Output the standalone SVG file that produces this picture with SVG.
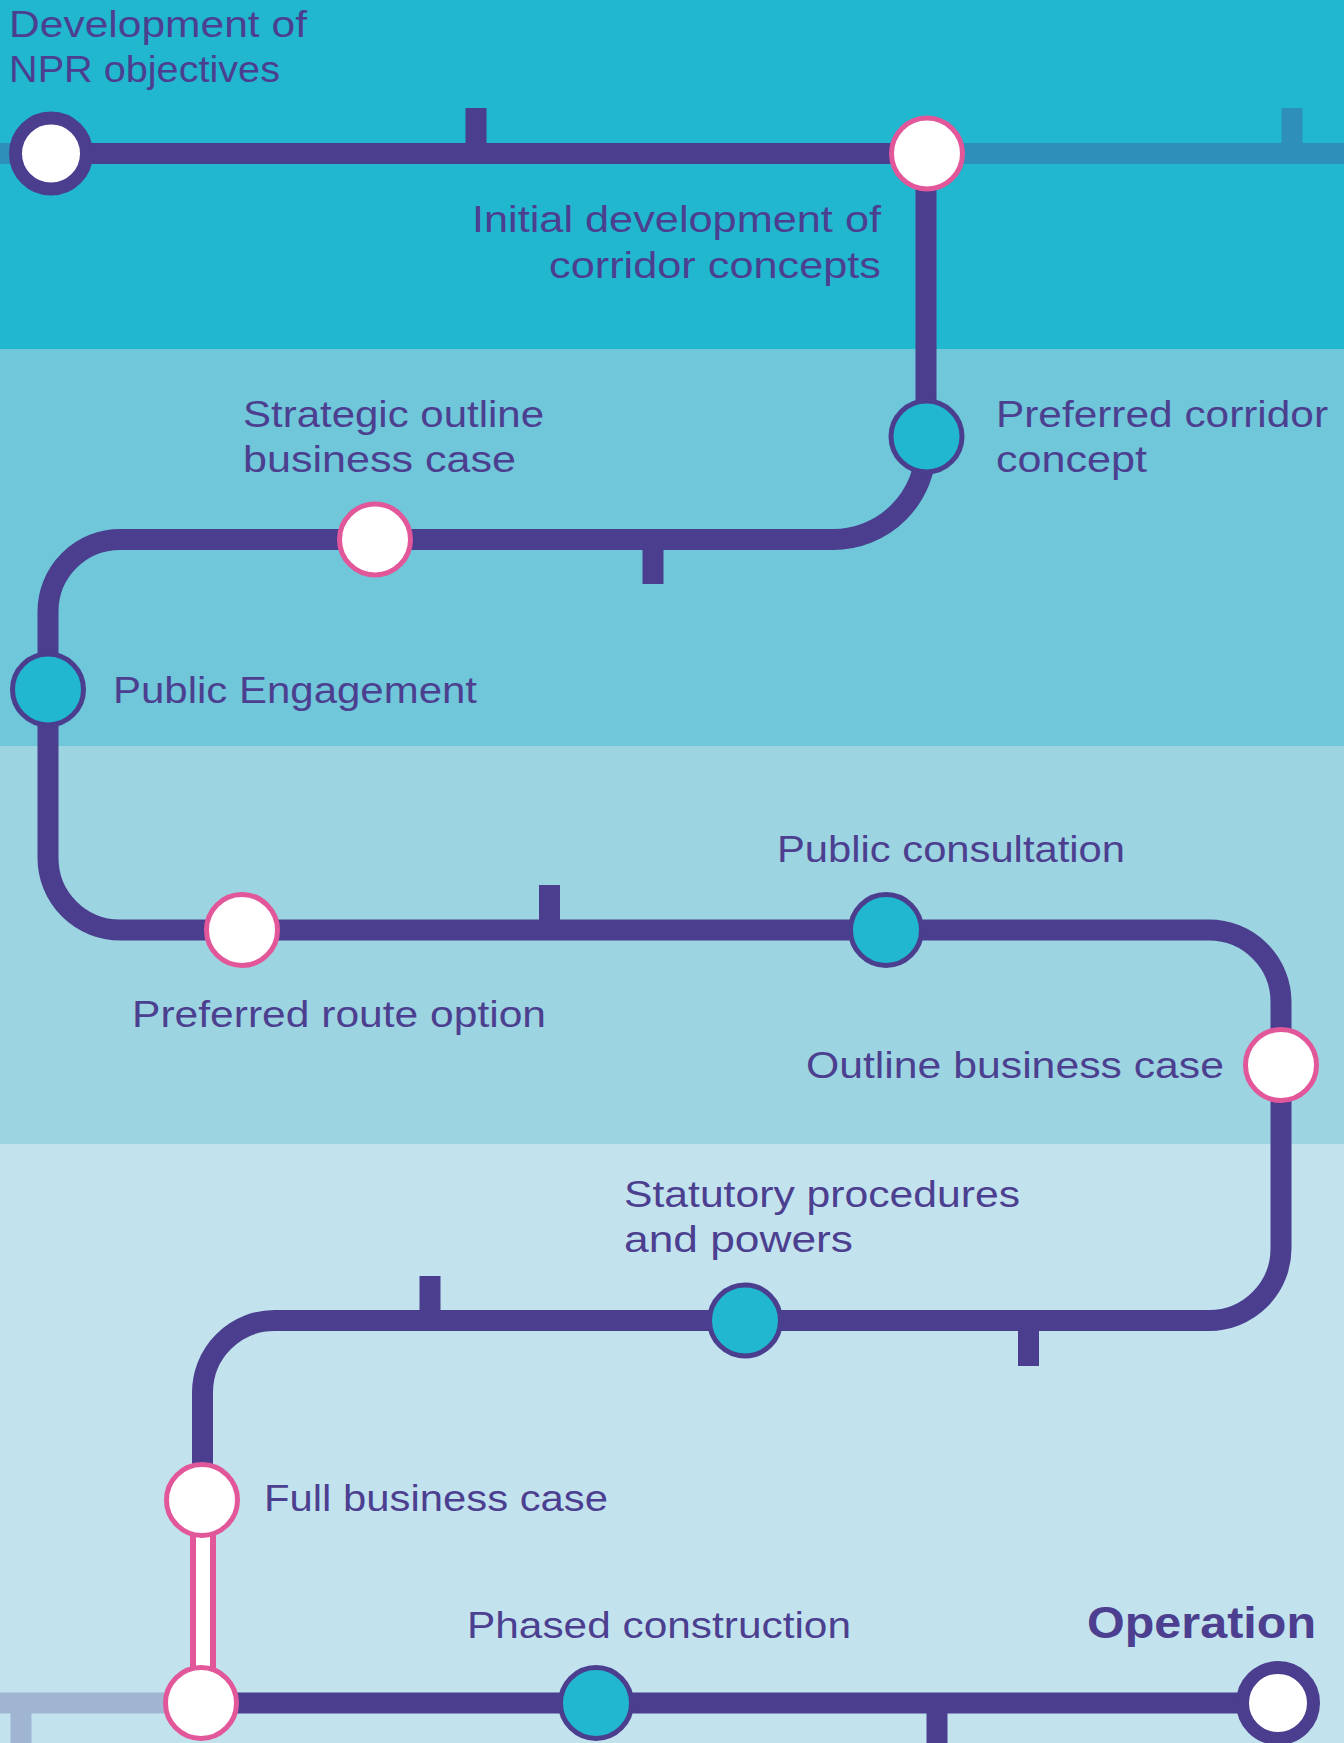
<svg xmlns="http://www.w3.org/2000/svg" width="1344" height="1743" viewBox="0 0 1344 1743">
<style>
.lbl{font-family:"Liberation Sans",Arial,sans-serif;font-size:37px;fill:#4C3F90}
.bold{font-weight:bold;font-size:44px}
.line{fill:none;stroke:#4B3E8F;stroke-width:21}
.light1{fill:none;stroke:#2E8FBB;stroke-width:21}
.light2{fill:none;stroke:#A0B5D2;stroke-width:21}
.tick{stroke:#4B3E8F;stroke-width:21}
.pink{fill:#FFFFFF;stroke:#E2579A;stroke-width:5}
.teal{fill:#20B7CF;stroke:#4B3E8F;stroke-width:5}
.term{fill:#FFFFFF;stroke:#4B3E8F;stroke-width:13}
</style>
<g id="bands">
<rect x="0" y="0" width="1344" height="349" fill="#20B7CF"/>
<rect x="0" y="349" width="1344" height="397" fill="#6FC7D9"/>
<rect x="0" y="746" width="1344" height="398" fill="#9CD5E1"/>
<rect x="0" y="1144" width="1344" height="599" fill="#C2E3EE"/>
</g>
<g id="connectors">
<path class="light1" d="M0,153.5 H51 M926,153.5 H1344"/>
<line x1="1292" y1="108" x2="1292" y2="153" stroke="#2E8FBB" stroke-width="21"/>
<path class="light2" d="M0,1703 H201"/>
<line x1="21" y1="1703" x2="21" y2="1743" stroke="#A0B5D2" stroke-width="21"/>
<path class="line" d="M51,153.5 H926 V446.5 A93,93 0 0 1 833,539.5 H120 A72,72 0 0 0 48,611.5 V858 A72,72 0 0 0 120,930 H1209 A72,72 0 0 1 1281,1002 V1248.5 A72,72 0 0 1 1209,1320.5 H274.5 A72,72 0 0 0 202.5,1392.5 V1500"/>
<path class="line" d="M201,1703 H1278"/>
<line class="tick" x1="476" y1="108" x2="476" y2="153"/>
<line class="tick" x1="653" y1="539" x2="653" y2="584"/>
<line class="tick" x1="549.5" y1="885" x2="549.5" y2="930"/>
<line class="tick" x1="430" y1="1276" x2="430" y2="1320"/>
<line class="tick" x1="1028.5" y1="1320" x2="1028.5" y2="1366"/>
<line class="tick" x1="937" y1="1703" x2="937" y2="1743"/>
<rect x="193" y="1500" width="20" height="203" fill="#FFFFFF" stroke="#E2579A" stroke-width="6"/>
</g>
<g id="n-development">
<circle class="term" cx="51" cy="153.5" r="35.5"/>
<text class="lbl" x="9" y="37" textLength="298" lengthAdjust="spacingAndGlyphs">Development of</text>
<text class="lbl" x="9" y="82" textLength="271" lengthAdjust="spacingAndGlyphs">NPR objectives</text>
</g>
<g id="n-initial">
<circle class="pink" cx="927" cy="153.5" r="35.5"/>
<text class="lbl" x="472" y="232" textLength="409" lengthAdjust="spacingAndGlyphs">Initial development of</text>
<text class="lbl" x="549" y="278" textLength="332" lengthAdjust="spacingAndGlyphs">corridor concepts</text>
</g>
<g id="n-corridor">
<circle class="teal" cx="926.5" cy="436.5" r="35.5"/>
<text class="lbl" x="996" y="427" textLength="332" lengthAdjust="spacingAndGlyphs">Preferred corridor</text>
<text class="lbl" x="996" y="472" textLength="151" lengthAdjust="spacingAndGlyphs">concept</text>
</g>
<g id="n-sobc">
<circle class="pink" cx="375" cy="539.5" r="35.5"/>
<text class="lbl" x="243" y="427" textLength="301" lengthAdjust="spacingAndGlyphs">Strategic outline</text>
<text class="lbl" x="243" y="472" textLength="273" lengthAdjust="spacingAndGlyphs">business case</text>
</g>
<g id="n-engagement">
<circle class="teal" cx="48" cy="689.5" r="35.5"/>
<text class="lbl" x="113" y="703" textLength="364" lengthAdjust="spacingAndGlyphs">Public Engagement</text>
</g>
<g id="n-route">
<circle class="pink" cx="242" cy="930" r="35.5"/>
<text class="lbl" x="132" y="1027" textLength="414" lengthAdjust="spacingAndGlyphs">Preferred route option</text>
</g>
<g id="n-consultation">
<circle class="teal" cx="886" cy="930" r="35.5"/>
<text class="lbl" x="777" y="862" textLength="348" lengthAdjust="spacingAndGlyphs">Public consultation</text>
</g>
<g id="n-obc">
<circle class="pink" cx="1281" cy="1065" r="35.5"/>
<text class="lbl" x="806" y="1078" textLength="418" lengthAdjust="spacingAndGlyphs">Outline business case</text>
</g>
<g id="n-statutory">
<circle class="teal" cx="745" cy="1320.5" r="35.5"/>
<text class="lbl" x="624" y="1207" textLength="396" lengthAdjust="spacingAndGlyphs">Statutory procedures</text>
<text class="lbl" x="624" y="1252" textLength="229" lengthAdjust="spacingAndGlyphs">and powers</text>
</g>
<g id="n-fbc">
<circle class="pink" cx="202" cy="1500" r="35.5"/>
<text class="lbl" x="264" y="1511" textLength="344" lengthAdjust="spacingAndGlyphs">Full business case</text>
</g>
<g id="n-start-construction">
<circle class="pink" cx="201" cy="1703" r="35.5"/>
</g>
<g id="n-phased">
<circle class="teal" cx="596" cy="1703" r="35.5"/>
<text class="lbl" x="467" y="1638" textLength="384" lengthAdjust="spacingAndGlyphs">Phased construction</text>
</g>
<g id="n-operation">
<circle class="term" cx="1278" cy="1703" r="35.5"/>
<text class="lbl bold" x="1087" y="1638" textLength="229" lengthAdjust="spacingAndGlyphs">Operation</text>
</g>
</svg>
